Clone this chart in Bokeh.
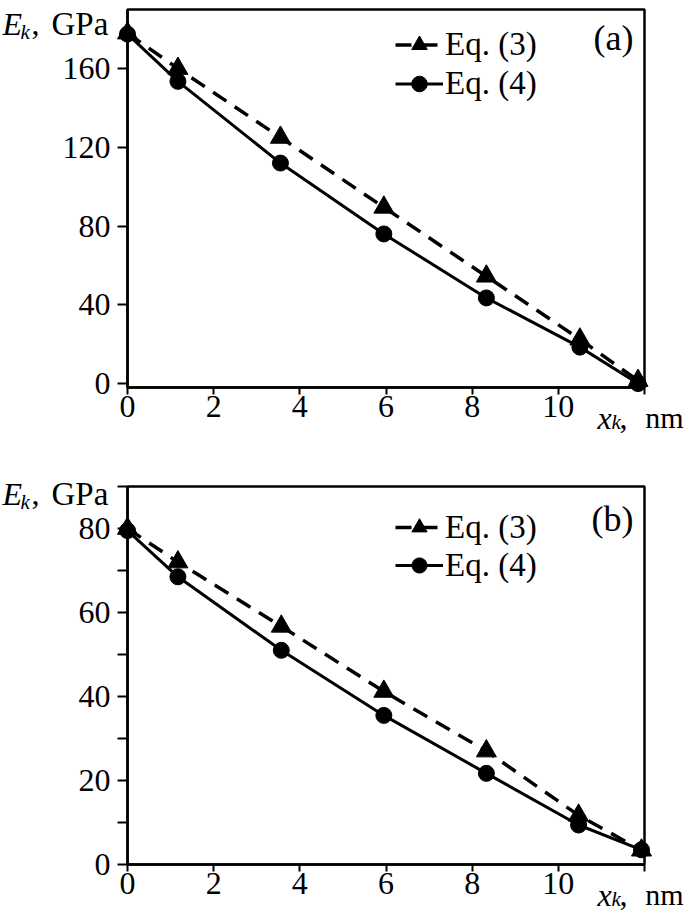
from bokeh.plotting import figure
from bokeh.models import Range1d, FixedTicker, Label, Legend, LegendItem, BoxAnnotation
from bokeh.layouts import column
from bokeh.embed import file_html
from bokeh.resources import INLINE

# ---------------- data ----------------
# panel (a)
x_a = [0, 1.17, 3.55, 5.95, 8.33, 10.5, 11.85]
eq3_a = [178, 160, 125, 89.5, 54.5, 22.5, 1.5]
eq4_a = [177.5, 153.5, 112, 76, 43.5, 18.5, 0]
# panel (b)
x_b = [0, 1.17, 3.57, 5.95, 8.33, 10.47, 11.93]
eq3_b = [80, 72, 56.7, 41.2, 27, 11.7, 3.4]
eq4_b = [79.5, 68.5, 51, 35.5, 21.7, 9.4, 3.5]

x_ticks = [0, 2, 4, 6, 8, 10]
x_minor = [12]
y_ticks_a = [0, 40, 80, 120, 160]
y_ticks_b = [0, 20, 40, 60, 80]
y_minor_b = [10, 30, 50, 70, 90]
series_labels = ["Eq. (3)", "Eq. (4)"]

FONT = "Liberation Serif"

# ---------------- layout geometry (pixels) ----------------
W = 685
FRAME_L, FRAME_R = 127, 644
X0, X1 = 0, 12


def add_text(p, text, x, y, xo, yo, size, italic=False, align="left", baseline="alphabetic"):
    p.add_layout(Label(x=x, y=y, x_offset=xo, y_offset=yo, text=text,
                       text_font=FONT, text_font_size=f"{size}px",
                       text_font_style="italic" if italic else "normal",
                       text_align=align, text_baseline=baseline, text_color="black"))


def panel(xs, e3, e4, y0, y1, yt, ym, tag, H, top_px, bot_px, lab_dy, tag_dy, leg_rows):
    sx = (FRAME_R - FRAME_L) / (X1 - X0)
    sy = (bot_px - top_px) / (y1 - y0)
    xr = Range1d(X0 - FRAME_L / sx, X1 + (W - FRAME_R) / sx)
    yr = Range1d(y0 - (H - bot_px) / sy, y1 + top_px / sy)
    p = figure(width=W, height=H, output_backend="svg", toolbar_location=None,
               x_range=xr, y_range=yr,
               min_border_left=0, min_border_right=0, min_border_top=0, min_border_bottom=0)
    p.grid.visible = False
    p.outline_line_alpha = 0
    p.background_fill_color = "white"
    p.border_fill_color = "white"

    # plot box
    p.add_layout(BoxAnnotation(left=X0, right=X1, bottom=y0, top=y1, fill_alpha=0,
                               line_color="black", line_alpha=1, line_width=2.5))

    for ax in (p.xaxis[0], p.yaxis[0]):
        ax.axis_line_width = 2.5
        ax.major_tick_line_width = 2
        ax.minor_tick_line_width = 2
        ax.major_tick_in = 0
        ax.minor_tick_in = 0
        ax.major_label_text_font = FONT
        ax.major_label_text_font_size = "32px"
        ax.major_label_text_color = "black"
    xa = p.xaxis[0]
    xa.fixed_location = y0
    xa.bounds = (X0, X1)
    xa.ticker = FixedTicker(ticks=x_ticks, minor_ticks=x_minor)
    xa.major_tick_out = 7
    xa.minor_tick_out = 7
    xa.major_label_standoff = 1
    ya = p.yaxis[0]
    ya.fixed_location = X0
    ya.bounds = (y0, y1)
    ya.ticker = FixedTicker(ticks=yt, minor_ticks=ym)
    ya.major_tick_out = 10
    ya.minor_tick_out = 10
    ya.major_label_standoff = 7

    l3 = p.line(xs, e3, line_color="black", line_width=3.5, line_dash="16 10")
    s3 = p.scatter(xs, e3, marker="triangle", size=20, color="black")
    l4 = p.line(xs, e4, line_color="black", line_width=3)
    s4 = p.scatter(xs, e4, marker="circle", size=16, color="black")

    row1, row2 = leg_rows
    rh = row2 - row1
    leg_bottom = row1 - rh / 2 + 2 * rh
    leg = Legend(items=[LegendItem(label=series_labels[0], renderers=[l3, s3]),
                        LegendItem(label=series_labels[1], renderers=[l4, s4])],
                 location=(395, H - leg_bottom), glyph_width=48, glyph_height=rh,
                 label_height=rh, label_standoff=2, spacing=0, padding=0, margin=0,
                 border_line_alpha=0, background_fill_alpha=0,
                 label_text_font=FONT, label_text_font_size="33px", label_text_color="black")
    p.add_layout(leg)

    # y-axis title E_k, GPa (top-left)
    add_text(p, "E", X0, y1, 2 - FRAME_L, lab_dy, 32, italic=True)
    add_text(p, "k", X0, y1, 20 - FRAME_L, lab_dy - 8, 21, italic=True)
    add_text(p, ",", X0, y1, 31 - FRAME_L, lab_dy, 32)
    add_text(p, "GPa", X0, y1, 51 - FRAME_L, lab_dy, 33)
    # x-axis title x_k, nm (bottom-right)
    add_text(p, "x", X1, y0, 597 - FRAME_R, -30, 32, italic=True)
    add_text(p, "k", X1, y0, 611 - FRAME_R, -34, 21, italic=True)
    add_text(p, ",", X1, y0, 619 - FRAME_R, -30, 32)
    add_text(p, "nm", X1, y0, 683 - FRAME_R, -30, 30, align="right")
    # panel tag
    add_text(p, tag, X1, y1, -11, tag_dy, 36, align="right", baseline="middle")
    return p


H_A = 463
H_B = 912 - H_A
pa = panel(x_a, eq3_a, eq4_a, -2, 190, y_ticks_a, [], "(a)", H_A, 9, 387,
           -14, -28.5, (44, 83))
pb = panel(x_b, eq3_b, eq4_b, 0, 90, y_ticks_b, y_minor_b, "(b)", H_B, 486 - H_A, 864 - H_A,
           -7, -32, (527 - H_A, 565 - H_A))

layout = column(pa, pb, spacing=0)
open("out.html", "w").write(file_html(layout, INLINE))
